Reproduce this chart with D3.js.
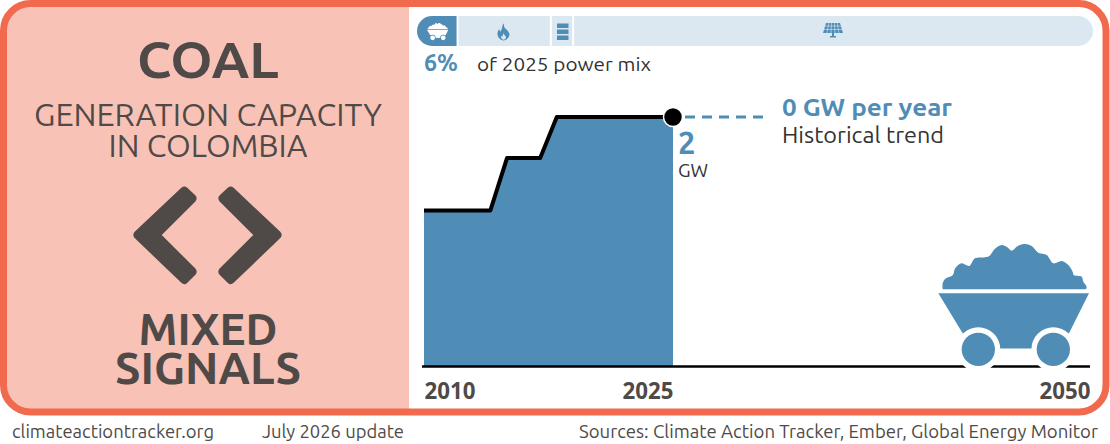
<!DOCTYPE html>
<html>
<head>
<meta charset="utf-8">
<script src="https://d3js.org/d3.v7.min.js"></script>
<style>
body { margin: 0; background: #fff; }
svg { display: block; }
text { font-family: "Ubuntu", "Noto Sans", sans-serif; }
</style>
</head>
<body>
<script>
const WIDTH = 1110;
const HEIGHT = 444;
const BLUE = "#4f8db6";
const PALE = "#dce8f1";
const DARK = "#4f4a48";
const INK = "#333333";
const FRAME = "#f26a4d";

// capacity, GW
var years = [2010,2011,2012,2013,2014,2015,2016,2017,2018,2019,2020,2021,2022,2023,2024,2025];
var capacity = [1.25,1.25,1.25,1.25,1.25,1.67,1.67,1.67,2,2,2,2,2,2,2,2];
var axisYears = [2010,2025,2050];

// 2025 power mix shares, %
var mixFuels = ["coal","gas","oil","renewables"];
var mixShares = [6,13.8,3.3,76.9];

// icon outlines, drawn in a local box and scaled into place
var heapOutline = [[68,178],[68,160],[76,146],[98,136],[106,114],[125,100],[148,108],[165,85],[195,82],[208,78],[225,56],[245,45],[262,52],[275,62],[295,47],[315,42],[335,48],[355,68],[380,75],[400,100],[425,93],[445,105],[458,125],[462,136],[485,140],[490,155],[500,170],[498,178]];
var tubOutline = [[55,190],[507,190],[447,310],[335,355],[240,355],[128,310]];
var wheelCentres = [175,400];
var flameOutline = [[6.5,0],[7.5,4],[10.5,7],[12.5,11],[10.5,15],[6.5,17],[2.5,15],[0.5,11],[2,6],[3.5,8]];

var svg = d3.select("body").append("svg")
    .attr("width",WIDTH)
    .attr("height",HEIGHT);

// frame and left panel
svg.append("rect")
    .attr("x",3.5).attr("y",3.5).attr("width",1102.5).attr("height",408.5)
    .attr("rx",27).attr("fill","#fff");
svg.append("path")
    .attr("d","M409 3.5H30.5a27 27 0 0 0 -27 27V385a27 27 0 0 0 27 27H409Z")
    .attr("fill","#f9c2b6");
svg.append("rect")
    .attr("x",3.5).attr("y",3.5).attr("width",1102.5).attr("height",408.5)
    .attr("rx",27).attr("fill","none")
    .attr("stroke",FRAME).attr("stroke-width",7);

function label(str,x,y,size,weight,color,anchor,length){
    var t = svg.append("text")
        .attr("x",x).attr("y",y)
        .attr("font-size",size)
        .attr("font-weight",weight)
        .attr("fill",color)
        .attr("text-anchor",anchor)
        .text(str);
    if(length){
        t.attr("textLength",length).attr("lengthAdjust","spacingAndGlyphs");
    }
    return t;
}

label("COAL",208,78,50,700,DARK,"middle",142);
label("GENERATION CAPACITY",208,126,31,400,DARK,"middle",348);
label("IN COLOMBIA",208,157,31,400,DARK,"middle",199);
label("MIXED",208,345,44,700,DARK,"middle",139);
label("SIGNALS",208,384,44,700,DARK,"middle",186);

// mixed signal chevrons
var chevron = svg.append("g").attr("transform","translate(110,170) scale(0.3333)");
var chevronPts = "83,195 223,63 247,85 137,195 247,305 223,329";
chevron.append("polygon").attr("points",chevronPts)
    .attr("fill",DARK).attr("stroke",DARK).attr("stroke-width",26).attr("stroke-linejoin","round");
chevron.append("polygon").attr("points",chevronPts)
    .attr("transform","translate(585,0) scale(-1,1)")
    .attr("fill",DARK).attr("stroke",DARK).attr("stroke-width",26).attr("stroke-linejoin","round");

function drawCart(g,fg,ring){
    g.append("path")
        .attr("d",d3.line().curve(d3.curveCatmullRom.alpha(0.5))(heapOutline)+"Z")
        .attr("fill",fg);
    g.append("path")
        .attr("d",d3.line()(tubOutline)+"Z")
        .attr("fill",fg);
    wheelCentres.forEach(function(cx){
        g.append("circle").attr("cx",cx).attr("cy",358).attr("r",66).attr("fill",ring);
    });
    g.append("rect").attr("x",241).attr("y",310).attr("width",93).attr("height",45).attr("fill",fg);
    wheelCentres.forEach(function(cx){
        g.append("circle").attr("cx",cx).attr("cy",358).attr("r",50).attr("fill",fg);
    });
}

// power mix bar
var mixX = d3.scaleLinear().domain([0,d3.sum(mixShares)]).range([417,1093]);
var mixStack = d3.cumsum(mixShares);
var barTop = 16;
var barH = 30;

mixFuels.forEach(function(fuel,i){
    var x0 = mixX(i ? mixStack[i-1] : 0);
    var x1 = mixX(mixStack[i]);
    var left = i===0 ? 15 : 0;
    var right = i===mixFuels.length-1 ? 15 : 0;
    var gapL = i===0 ? 0 : 1;
    var gapR = i===mixFuels.length-1 ? 0 : 1;
    var a = x0+gapL, b = x1-gapR;
    svg.append("path")
        .attr("d","M"+(a+left)+" "+barTop+"H"+(b-right)
            +(right ? "a15 15 0 0 1 0 "+barH : "V"+(barTop+barH))
            +"H"+(a+left)
            +(left ? "a15 15 0 0 1 0 "+(-barH) : "Z"))
        .attr("fill",i===0 ? BLUE : PALE);
});

drawCart(svg.append("g").attr("transform","translate(424.4,21) scale(0.047)"),"#fff",BLUE);

// flame
svg.append("path")
    .attr("transform","translate(497,23.5)")
    .attr("d",d3.line().curve(d3.curveCatmullRomClosed)(flameOutline))
    .attr("fill",BLUE);
svg.append("path")
    .attr("transform","translate(501,33) scale(0.4)")
    .attr("d",d3.line().curve(d3.curveCatmullRomClosed)(flameOutline))
    .attr("fill",PALE);

// oil barrel
[23.5,29.5,35.5].forEach(function(y){
    svg.append("rect").attr("x",557).attr("y",y).attr("width",11.5).attr("height",4.5).attr("fill",BLUE);
});

// solar panel
svg.append("path").attr("d","M826 23H840L843 33H823Z").attr("fill",BLUE);
d3.range(1,5).forEach(function(i){
    svg.append("line").attr("x1",823+4*i).attr("x2",826+2.8*i).attr("y1",33).attr("y2",23)
        .attr("stroke",PALE).attr("stroke-width",0.6);
});
[26,29.5].forEach(function(y){
    svg.append("line").attr("x1",823).attr("x2",843).attr("y1",y).attr("y2",y)
        .attr("stroke",PALE).attr("stroke-width",0.6);
});
svg.append("rect").attr("x",832).attr("y",33).attr("width",2).attr("height",3).attr("fill",BLUE);
svg.append("rect").attr("x",830).attr("y",36).attr("width",6).attr("height",1.5).attr("fill",BLUE);

label("6%",424,71,24,700,BLUE,"start",34);
label("of 2025 power mix",477,71,19,400,INK,"start",174);

// capacity chart
var x = d3.scaleLinear().domain([2010,2050]).range([424,1088]);
var y = d3.scaleLinear().domain([0,2]).range([366,117]);

svg.append("path")
    .datum(years)
    .attr("d",d3.area()
        .x(function(d){return x(d);})
        .y0(y(0))
        .y1(function(d,i){return y(capacity[i]);}))
    .attr("fill",BLUE);

svg.append("path")
    .datum(years)
    .attr("d",d3.line()
        .x(function(d){return x(d);})
        .y(function(d,i){return y(capacity[i]);}))
    .attr("fill","none")
    .attr("stroke","#000")
    .attr("stroke-width",4)
    .attr("stroke-linejoin","round");

svg.append("line")
    .attr("x1",x(2025)+12).attr("x2",769)
    .attr("y1",y(2)).attr("y2",y(2))
    .attr("stroke",BLUE).attr("stroke-width",3)
    .attr("stroke-dasharray","10 7");

svg.append("circle")
    .attr("cx",x(2025)).attr("cy",y(2)).attr("r",9.5)
    .attr("fill","#000").attr("stroke","#fff").attr("stroke-width",1.5);

label("2",678,154,31,700,BLUE,"start");
label("GW",678,177,19,400,INK,"start",30);
label("0 GW per year",782,116,24,700,BLUE,"start",170);
label("Historical trend",782,143,23,400,INK,"start",162);

// baseline and year labels
var axis = svg.append("g")
    .attr("transform","translate(0,366)")
    .call(d3.axisBottom(x).tickValues(axisYears).tickFormat(d3.format("d")).tickSize(0));
axis.select(".domain").remove();
axis.selectAll("text")
    .attr("y",33)
    .attr("dy",0)
    .attr("font-size",23)
    .attr("font-weight",700)
    .attr("fill",DARK)
    .attr("text-anchor",function(d){return d===2010 ? "start" : "end";})
    .attr("x",function(d){return d===2050 ? 2 : 0;})
    .style("font-family","\"Noto Sans\", sans-serif")
    .attr("textLength",51)
    .attr("lengthAdjust","spacingAndGlyphs");

svg.append("line")
    .attr("x1",422).attr("x2",1090)
    .attr("y1",366.5).attr("y2",366.5)
    .attr("stroke","#000").attr("stroke-width",2.5);

// big cart sits on the baseline
drawCart(svg.append("g").attr("transform","translate(920,230) scale(0.3333)"),BLUE,"#fff");

label("climateactiontracker.org",12,438,18,400,DARK,"start",202);
label("July 2026 update",262,438,18,400,DARK,"start",142);
label("Sources: Climate Action Tracker, Ember, Global Energy Monitor",579,438,18,400,DARK,"start",519);
</script>
</body>
</html>
